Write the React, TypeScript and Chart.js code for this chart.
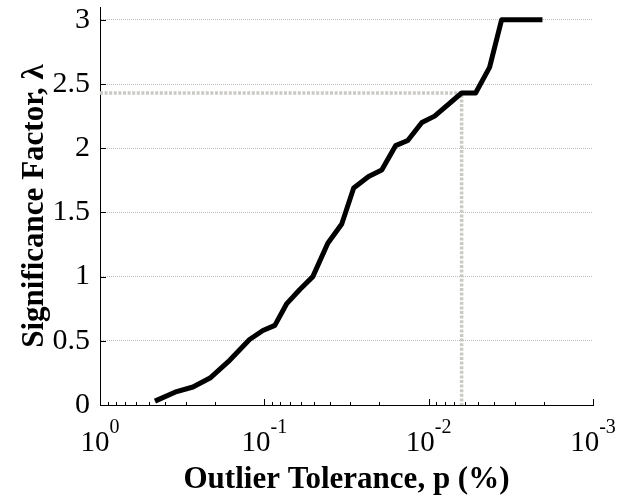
import React, { useEffect, useRef } from "react";
import { Chart, registerables } from "chart.js";

Chart.register(...registerables);

// Outlier tolerance p (%) and significance factor λ
const pValues = [0.463, 0.35, 0.272, 0.214, 0.162, 0.123, 0.102, 0.0863, 0.073, 0.0608, 0.0507, 0.0411, 0.0338, 0.0286, 0.0232, 0.0193, 0.0159, 0.0134, 0.011, 0.0092, 0.0063, 0.00518, 0.00426, 0.0036, 0.00203];
const lambdaValues = [0.03, 0.1, 0.14, 0.21, 0.35, 0.51, 0.58, 0.62, 0.79, 0.9, 1.0, 1.26, 1.41, 1.69, 1.78, 1.83, 2.02, 2.06, 2.2, 2.25, 2.43, 2.43, 2.63, 3.0, 3.0];

// Reference (dashed) guide lines
const refP = [1, 0.0063, 0.0063];
const refLambda = [2.43, 2.43, 0];

const yTicks = [0, 0.5, 1, 1.5, 2, 2.5, 3];
const xTickExponents = [0, -1, -2, -3];
const xTitle = "Outlier Tolerance, p (%)";
const yTitle = "Significance Factor, λ";

const SERIF = "'Liberation Serif', 'Times New Roman', serif";

const decorPlugin = {
  id: "decor",
  afterDraw(chart: any) {
    const ctx = chart.ctx;
    const xs = chart.scales.x;
    const ys = chart.scales.y;
    const { left, right, top, bottom } = chart.chartArea;
    ctx.save();
    ctx.strokeStyle = "#000";
    ctx.lineWidth = 1;
    // x tick marks (inward)
    for (let k = -3; k <= 0; k++) {
      for (let m = 1; m <= 9; m++) {
        const v = m * Math.pow(10, k);
        if (v > 1.0000001) continue;
        const px = Math.round(xs.getPixelForValue(v)) + 0.5;
        const len = m === 1 ? 6 : 3;
        ctx.beginPath();
        ctx.moveTo(px, bottom);
        ctx.lineTo(px, bottom - len);
        ctx.stroke();
      }
    }
    // y tick marks (inward)
    for (const v of yTicks) {
      if (v === 0) continue;
      const py = Math.round(ys.getPixelForValue(v)) + 0.5;
      ctx.beginPath();
      ctx.moveTo(left, py);
      ctx.lineTo(left + 6, py);
      ctx.stroke();
    }
    // x tick labels with superscript exponents
    ctx.fillStyle = "#000";
    ctx.textBaseline = "alphabetic";
    ctx.textAlign = "left";
    for (const e of xTickExponents) {
      const v = Math.pow(10, e);
      const px = xs.getPixelForValue(v);
      const base = "10";
      const exp = String(e);
      ctx.font = `29px ${SERIF}`;
      const wb = ctx.measureText(base).width;
      ctx.font = `20px ${SERIF}`;
      const we = ctx.measureText(exp).width;
      const start = px - (wb + we) / 2;
      ctx.font = `29px ${SERIF}`;
      ctx.fillText(base, start, 451);
      ctx.font = `20px ${SERIF}`;
      ctx.fillText(exp, start + wb, 433);
    }
    // axis titles
    ctx.font = `bold 31px ${SERIF}`;
    ctx.textAlign = "center";
    ctx.fillText(xTitle, (left + right) / 2, 488);
    ctx.save();
    ctx.translate(43, (top + bottom) / 2);
    ctx.rotate(-Math.PI / 2);
    ctx.fillText(yTitle, 0, 0);
    ctx.restore();
    ctx.restore();
  },
};

export default function App() {
  const ref = useRef<HTMLCanvasElement | null>(null);
  useEffect(() => {
    if (!ref.current) return;
    const chart = new Chart(ref.current, {
      type: "line",
      data: {
        datasets: [
          {
            data: pValues.map((p, i) => ({ x: p, y: lambdaValues[i] })),
            borderColor: "#000",
            borderWidth: 5,
            pointRadius: 0,
            tension: 0,
            borderJoinStyle: "round",
            order: 0,
          },
          {
            data: refP.map((p, i) => ({ x: p, y: refLambda[i] })),
            borderColor: "#cbc9c3",
            borderWidth: 3.5,
            borderDash: [3, 1.6],
            borderCapStyle: "butt",
            pointRadius: 0,
            tension: 0,
            order: 1,
          },
        ],
      },
      plugins: [decorPlugin],
      options: {
        animation: false,
        responsive: false,
        devicePixelRatio: 1,
        layout: { padding: { top: 7, right: 25, left: 0, bottom: 0 } },
        plugins: { legend: { display: false }, tooltip: { enabled: false } },
        scales: {
          x: {
            type: "logarithmic",
            reverse: true,
            min: 0.001,
            max: 1,
            ticks: { display: false },
            grid: { display: false, drawTicks: false },
            border: { display: true, color: "#000", width: 1 },
            afterFit: (s: any) => {
              s.height = 92;
              s.paddingLeft = 0;
              s.paddingRight = 0;
            },
          },
          y: {
            type: "linear",
            min: 0,
            max: 3.1,
            afterBuildTicks: (s: any) => {
              s.ticks = yTicks.map((v) => ({ value: v }));
            },
            ticks: {
              padding: 10,
              color: "#000",
              font: { family: SERIF, size: 30 },
              callback: (v: any) => String(v),
            },
            grid: {
              drawTicks: false,
              color: (c: any) => (c.tick && c.tick.value === 0 ? "rgba(0,0,0,0)" : "#bdbdbd"),
              lineWidth: 1,
            },
            border: { display: true, color: "#000", width: 1, dash: [1, 1] },
            afterFit: (s: any) => {
              s.width = 100;
              s.paddingTop = 0;
              s.paddingBottom = 0;
            },
          },
        },
      },
    });
    return () => chart.destroy();
  }, []);
  return (
    <div style={{ position: "absolute", left: 0, top: 0, width: 618, height: 497, background: "#fff" }}>
      <canvas ref={ref} width={618} height={497} style={{ display: "block" }} />
    </div>
  );
}
